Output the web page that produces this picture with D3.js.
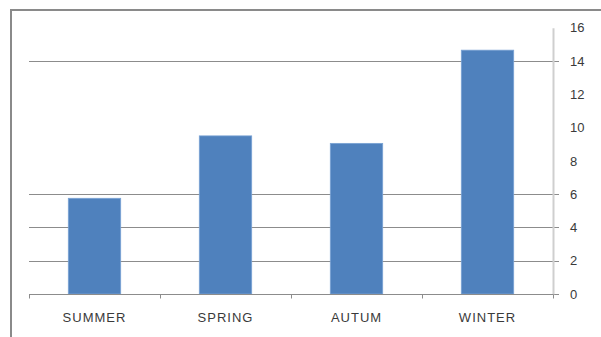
<!DOCTYPE html>
<html>
<head>
<meta charset="utf-8">
<script src="https://cdn.jsdelivr.net/npm/d3@7/dist/d3.min.js"></script>
<style>
  html, body { margin: 0; padding: 0; background: #fff; }
  svg { display: block; }
  text { font-family: "Liberation Sans", Arial, sans-serif; fill: #3a3a3a; }
</style>
</head>
<body>
<svg id="chart" width="601" height="337"></svg>
<script>
// Seasonal values
const categories = ["SUMMER", "SPRING", "AUTUM", "WINTER"];
const values = [5.75, 9.5, 9.05, 14.65];
const yTickValues = [0, 2, 4, 6, 8, 10, 12, 14, 16];
const gridValues = [0, 2, 4, 6, 14];

const svg = d3.select("#chart");
const W = 601, H = 337;
const plot = { left: 29, right: 553, top: 27.7, bottom: 294 };

// Outer chart frame (only top and left edges fall inside the canvas)
svg.append("path")
  .attr("d", `M11,${H} L11,10 L${W},10`)
  .attr("fill", "none")
  .attr("stroke", "#8a8a8a")
  .attr("stroke-width", 2);

const x = d3.scaleBand()
  .domain(categories)
  .range([plot.left, plot.right])
  .paddingInner(0.6)
  .paddingOuter(0.3);

const xTicks = d3.scaleBand()
  .domain(categories)
  .range([plot.left, plot.right]);

const y = d3.scaleLinear()
  .domain([0, 16])
  .range([plot.bottom, plot.top]);

// Horizontal gridlines, extending slightly past the value axis
svg.append("g")
  .selectAll("line")
  .data(gridValues)
  .join("line")
  .attr("x1", plot.left)
  .attr("x2", plot.right + 6)
  .attr("y1", d => Math.round(y(d)) + 0.5)
  .attr("y2", d => Math.round(y(d)) + 0.5)
  .attr("stroke", "#8c8c8c")
  .attr("stroke-width", 1);

// Value axis on the right
const yAxis = d3.axisRight(y)
  .tickValues(yTickValues)
  .tickSize(0)
  .tickPadding(17)
  .tickFormat(d3.format("d"));

const gy = svg.append("g")
  .attr("transform", `translate(${plot.right},0)`)
  .call(yAxis);
gy.select(".domain")
  .attr("stroke", "#cfcfcf")
  .attr("stroke-width", 2);
gy.selectAll("text")
  .style("font-size", "13px")
  .attr("fill", "#3a3a3a");

// Bars
svg.append("g")
  .selectAll("rect")
  .data(values)
  .join("rect")
  .attr("x", (d, i) => x(categories[i]))
  .attr("width", x.bandwidth())
  .attr("y", d => y(d))
  .attr("height", d => y(0) - y(d))
  .attr("fill", "#4f81bd")
  .attr("stroke", "#7aa3d4")
  .attr("stroke-width", 0.8);

// Category axis along the bottom
const xAxis = d3.axisBottom(xTicks)
  .tickSize(0)
  .tickPadding(18);

const gx = svg.append("g")
  .attr("transform", `translate(0,${Math.round(plot.bottom) + 0.5})`)
  .call(xAxis);
gx.select(".domain").attr("stroke", "#8c8c8c").attr("d", `M${plot.left},0H${plot.right}`);
gx.selectAll("text")
  .style("font-size", "13px")
  .style("letter-spacing", "1px")
  .attr("fill", "#3a3a3a");

// Category separator ticks
gx.append("g")
  .selectAll("line")
  .data(categories.map(c => xTicks(c)).concat([plot.right]))
  .join("line")
  .attr("x1", d => Math.round(d) + 0.5)
  .attr("x2", d => Math.round(d) + 0.5)
  .attr("y1", 0)
  .attr("y2", 4)
  .attr("stroke", "#8c8c8c");
</script>
</body>
</html>
